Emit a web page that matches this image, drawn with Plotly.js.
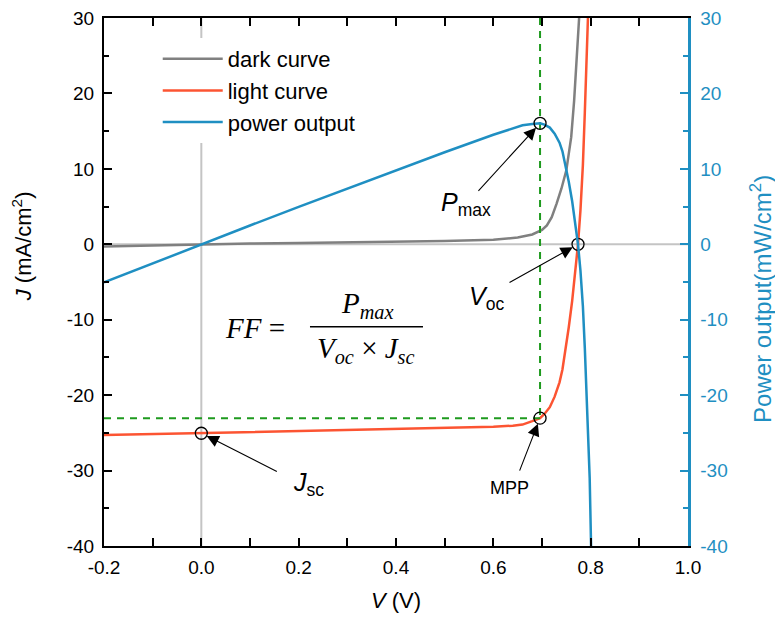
<!DOCTYPE html>
<html>
<head>
<meta charset="utf-8">
<script src="https://cdn.plot.ly/plotly-3.0.1.min.js"></script>
<style>
  html, body { margin: 0; padding: 0; background: #fff; }
  #chart { width: 775px; height: 624px; }
</style>
</head>
<body>
<div id="chart"></div>
<script>
// Dark J-V curve (V in volts, J in mA/cm^2)
const V_DARK = [-0.2, -0.1, 0, 0.1, 0.2, 0.3, 0.4, 0.5, 0.6, 0.65, 0.68, 0.70, 0.71, 0.72, 0.73, 0.74, 0.75, 0.76, 0.766, 0.772, 0.776, 0.78];
const J_DARK = [-0.3, -0.15, 0, 0.1, 0.18, 0.25, 0.32, 0.42, 0.6, 0.9, 1.3, 1.9, 2.5, 3.6, 5.4, 7.4, 9.8, 14.2, 19, 24.5, 29, 34];

// Illuminated J-V curve
const V_LIGHT = [-0.2, -0.1, 0, 0.1, 0.2, 0.3, 0.4, 0.5, 0.6, 0.64, 0.66, 0.68, 0.696, 0.705, 0.716, 0.726, 0.736, 0.742, 0.748, 0.755, 0.762, 0.768, 0.774, 0.779, 0.784, 0.788, 0.792, 0.795, 0.798];
const J_LIGHT = [-25.3, -25.17, -25.05, -24.93, -24.8, -24.67, -24.53, -24.4, -24.2, -24.05, -23.9, -23.45, -23.05, -22.5, -21.6, -20.2, -18.3, -16.6, -14.1, -11.0, -7.5, -4.0, 0, 4.5, 10.5, 17.5, 25, 31, 37];

// Power output (mW/cm^2)
const V_POWER = [-0.2, -0.1, 0, 0.1, 0.2, 0.3, 0.4, 0.5, 0.6, 0.64, 0.66, 0.68, 0.696, 0.705, 0.716, 0.726, 0.736, 0.742, 0.748, 0.755, 0.762, 0.768, 0.774, 0.779, 0.784, 0.788, 0.792, 0.795, 0.798, 0.801];
const P_OUT   = [-5.06, -2.52, 0, 2.49, 4.96, 7.4, 9.81, 12.2, 14.52, 15.39, 15.77, 15.95, 16.04, 15.86, 15.47, 14.67, 13.47, 12.32, 10.55, 8.3, 5.7, 3.1, 0, -3.5, -8.2, -13.8, -19.8, -25.5, -31, -40.5];

// Characteristic points
const V_SC = 0, J_SC = -25.05;
const V_MPP = 0.696, J_MPP = -23.05, P_MAX = 16.04;
const V_OC = 0.774;

// Axis ticks and their labels
const X_TICKS = [-0.2, 0.0, 0.2, 0.4, 0.6, 0.8, 1.0];
const X_TICK_LABELS = ['-0.2', '0.0', '0.2', '0.4', '0.6', '0.8', '1.0'];
const Y_TICKS = [-40, -30, -20, -10, 0, 10, 20, 30];
const Y_TICK_LABELS = ['-40', '-30', '-20', '-10', '0', '10', '20', '30'];

const FONT = 'Arial, "Liberation Sans", sans-serif';
const SERIF = '"Liberation Serif", "DejaVu Serif", serif';
const GRAY = '#808080';
const RED = '#fc5432';
const BLUE = '#1f8fc2';
const GREEN = '#1e9a1e';

const traces = [
  { x: V_DARK, y: J_DARK, name: 'dark curve', mode: 'lines', legendgroup: 'a',
    line: { color: GRAY, width: 2.5 } },
  { x: V_LIGHT, y: J_LIGHT, name: 'light curve', mode: 'lines', legendgroup: 'b',
    line: { color: RED, width: 2.5 } },
  { x: V_POWER, y: P_OUT, name: 'power output', mode: 'lines', legendgroup: 'c', yaxis: 'y2',
    line: { color: BLUE, width: 2.5 } },
  // guide lines to the maximum power point
  { x: [V_MPP, V_MPP], y: [30, J_MPP], mode: 'lines', showlegend: false, hoverinfo: 'skip',
    line: { color: GREEN, width: 2, dash: '7px,6px' } },
  { x: [-0.2, V_MPP], y: [J_MPP, J_MPP], mode: 'lines', showlegend: false, hoverinfo: 'skip',
    line: { color: GREEN, width: 2, dash: '7px,6px' } },
  // marked points
  { x: [V_SC, V_MPP, V_OC], y: [J_SC, J_MPP, 0], mode: 'markers', showlegend: false,
    marker: { symbol: 'circle-open', size: 12, color: '#000', line: { width: 1.3, color: '#000' } } },
  { x: [V_MPP], y: [P_MAX], yaxis: 'y2', mode: 'markers', showlegend: false,
    marker: { symbol: 'circle-open', size: 12, color: '#000', line: { width: 1.3, color: '#000' } } }
];

function arrow(x, y, ax, ay, yref) {
  return { x: x, y: y, xref: 'x', yref: yref || 'y', text: '', showarrow: true,
    ax: ax, ay: ay, arrowhead: 2, arrowsize: 2.2, arrowwidth: 1.1, arrowcolor: '#000',
    standoff: 6, font: { size: 1 } };
}

const annotations = [
  arrow(V_SC, J_SC, 77, 39),
  arrow(V_MPP, J_MPP, -21, 54),
  arrow(V_MPP, P_MAX, -63, 69, 'y2'),
  arrow(V_OC, 0, -70, 39),
  { xref: 'paper', yref: 'paper', x: 0.320, y: 0.118, xanchor: 'left', yanchor: 'middle', showarrow: false,
    text: '<i>J</i><sub>sc</sub>', font: { family: FONT, size: 25, color: '#000' } },
  { xref: 'paper', yref: 'paper', x: 0.695, y: 0.110, xanchor: 'center', yanchor: 'middle', showarrow: false,
    text: 'MPP', font: { family: FONT, size: 18, color: '#000' } },
  { xref: 'paper', yref: 'paper', x: 0.573, y: 0.647, xanchor: 'left', yanchor: 'middle', showarrow: false,
    text: '<i>P</i><sub>max</sub>', font: { family: FONT, size: 25, color: '#000' } },
  { xref: 'paper', yref: 'paper', x: 0.622, y: 0.470, xanchor: 'left', yanchor: 'middle', showarrow: false,
    text: '<i>V</i><sub>oc</sub>', font: { family: FONT, size: 25, color: '#000' } },
  // fill factor formula
  { xref: 'paper', yref: 'paper', x: 0.258, y: 0.412, xanchor: 'center', yanchor: 'middle', showarrow: false,
    text: '<i>FF</i> =', font: { family: SERIF, size: 29, color: '#000' } },
  { xref: 'paper', yref: 'paper', x: 0.451, y: 0.456, xanchor: 'center', yanchor: 'middle', showarrow: false,
    text: '<i>P<sub>max</sub></i>', font: { family: SERIF, size: 29, color: '#000' } },
  { xref: 'paper', yref: 'paper', x: 0.449, y: 0.371, xanchor: 'center', yanchor: 'middle', showarrow: false,
    text: '<i>V<sub>oc</sub></i> × <i>J<sub>sc</sub></i>', font: { family: SERIF, size: 29, color: '#000' } },
  // axis titles
  { xref: 'paper', yref: 'paper', x: -0.141, y: 0.567, xanchor: 'center', yanchor: 'middle', showarrow: false,
    textangle: -90, text: '<i>J</i> (mA/cm<sup>2</sup>)', font: { family: FONT, size: 22, color: '#000' } },
  { xref: 'paper', yref: 'paper', x: 1.125, y: 0.468, xanchor: 'center', yanchor: 'middle', showarrow: false,
    textangle: -90, text: 'Power output(mW/cm<sup>2</sup>)', font: { family: FONT, size: 24, color: BLUE } }
];

const shapes = [
  { type: 'line', xref: 'x', yref: 'paper', x0: 0, x1: 0, y0: 0, y1: 1, layer: 'below',
    line: { color: '#c4c4c4', width: 2 } },
  { type: 'line', xref: 'paper', yref: 'y', x0: 0, x1: 1, y0: 0, y1: 0, layer: 'below',
    line: { color: '#c4c4c4', width: 2 } },
  { type: 'line', xref: 'paper', yref: 'paper', x0: 0.3527, x1: 0.5462, y0: 0.4152, y1: 0.4152,
    line: { color: '#000', width: 1.3 } }
];

const layout = {
  width: 775, height: 624,
  margin: { l: 104, r: 87, t: 18, b: 78, pad: 0 },
  paper_bgcolor: '#fff', plot_bgcolor: '#fff',
  font: { family: FONT, size: 19, color: '#000' },
  showlegend: true,
  legend: { x: 0.092, y: 0.962, xanchor: 'left', yanchor: 'top', bgcolor: '#fff',
    borderwidth: 0, font: { family: FONT, size: 22, color: '#000' },
    itemwidth: 60, tracegroupgap: 0 },
  xaxis: {
    range: [-0.2, 1.0], tickvals: X_TICKS, ticktext: X_TICK_LABELS,
    ticks: 'inside', ticklen: 8, tickwidth: 2, tickcolor: '#000',
    minor: { dtick: 0.1, tick0: 0, ticks: 'inside', ticklen: 5, tickwidth: 2, tickcolor: '#000' },
    showline: true, linecolor: '#000', linewidth: 2, mirror: 'allticks',
    showgrid: false, zeroline: false,
    tickfont: { family: FONT, size: 19, color: '#000' }, ticklabelstandoff: 3,
    title: { text: '<i>V</i> (V)', font: { family: FONT, size: 22, color: '#000' }, standoff: 16 }
  },
  yaxis: {
    range: [-40, 30], tickvals: Y_TICKS, ticktext: Y_TICK_LABELS,
    ticks: 'inside', ticklen: 8, tickwidth: 2, tickcolor: '#000',
    minor: { dtick: 5, tick0: 0, ticks: 'inside', ticklen: 5, tickwidth: 2, tickcolor: '#000' },
    showline: true, linecolor: '#000', linewidth: 2,
    showgrid: false, zeroline: false,
    tickfont: { family: FONT, size: 19, color: '#000' }, ticklabelstandoff: 4
  },
  yaxis2: {
    overlaying: 'y', side: 'right',
    range: [-40, 30], tickvals: Y_TICKS, ticktext: Y_TICK_LABELS,
    ticks: 'inside', ticklen: 8, tickwidth: 2, tickcolor: BLUE,
    minor: { dtick: 5, tick0: 0, ticks: 'inside', ticklen: 5, tickwidth: 2, tickcolor: BLUE },
    showline: true, linecolor: BLUE, linewidth: 2.5,
    showgrid: false, zeroline: false,
    tickfont: { family: FONT, size: 19, color: BLUE }, ticklabelstandoff: 6
  },
  annotations: annotations,
  shapes: shapes
};

Plotly.newPlot('chart', traces, layout, { displayModeBar: false, staticPlot: true });
</script>
</body>
</html>
